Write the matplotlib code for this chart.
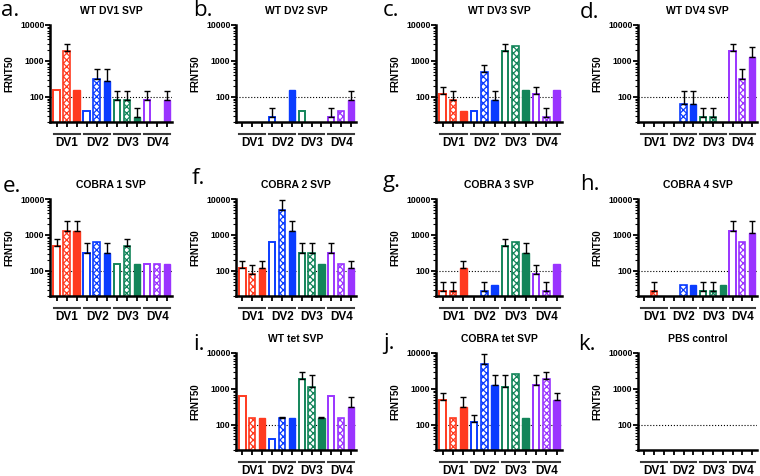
import numpy as np
import matplotlib
matplotlib.use('Agg')
import matplotlib.pyplot as plt
from matplotlib.ticker import LogLocator, NullFormatter

plt.rcParams['font.family'] = ['Liberation Sans', 'DejaVu Sans']
plt.rcParams['hatch.linewidth'] = 0.9

n = np.nan

# bar order inside each serotype group: open, checkered, filled
groups = ['DV1', 'DV2', 'DV3', 'DV4']
colors = ['#ff3a1f', '#0a3cff', '#13855a', '#9a34ff']

titles = ['WT DV1 SVP', 'WT DV2 SVP', 'WT DV3 SVP', 'WT DV4 SVP',
          'COBRA 1 SVP', 'COBRA 2 SVP', 'COBRA 3 SVP', 'COBRA 4 SVP',
          'WT tet SVP', 'COBRA tet SVP', 'PBS control']
letters = ['a.', 'b.', 'c.', 'd.', 'e.', 'f.', 'g.', 'h.', 'i.', 'j.', 'k.']

# geometric mean titres and upper end of error bar
a_vals = [160, 1900, 160, 40, 320, 280, 80, 80, 27, 80, n, 80]
a_errs = [n, 3000, n, n, 600, 600, 150, 150, 50, 150, n, 150]
b_vals = [n, n, n, 27, n, 160, 40, n, n, 27, 40, 80]
b_errs = [n, n, n, 50, n, n, n, n, n, 50, n, 150]
c_vals = [120, 80, 40, 40, 480, 80, 1900, 2560, 160, 120, 27, 160]
c_errs = [190, 150, n, n, 760, 150, 3000, n, n, 190, 50, n]
d_vals = [n, n, n, n, 65, 65, 27, 27, n, 1900, 320, 1300]
d_errs = [n, n, n, n, 150, 150, 50, 50, n, 3000, 600, 2400]
e_vals = [480, 1300, 1300, 320, 640, 320, 160, 480, 160, 160, 160, 160]
e_errs = [760, 2400, 2400, 600, n, 600, n, 760, n, n, n, n]
f_vals = [120, 80, 120, 640, 5100, 1300, 320, 320, 160, 320, 160, 120]
f_errs = [190, 150, 190, n, 9500, 2400, 600, 600, n, 600, n, 190]
g_vals = [27, 27, 120, n, 27, 40, 480, 640, 320, 80, 27, 160]
g_errs = [50, 50, 190, n, 50, n, 760, n, 600, 150, 50, n]
h_vals = [n, 27, n, n, 40, 40, 27, 27, 40, 1280, 640, 1100]
h_errs = [n, 50, n, n, n, n, 50, 50, n, 2400, n, 2400]
i_vals = [640, 160, 160, 40, 160, 160, 1900, 1100, 160, 640, 160, 320]
i_errs = [n, n, n, n, 170, n, 3000, 2400, 165, n, n, 600]
j_vals = [480, 160, 320, 120, 5100, 1300, 1100, 2560, 160, 1300, 1900, 480]
j_errs = [760, n, 600, 190, 9500, 2400, 2400, n, n, 2400, 3000, 760]
k_vals = [n] * 12
k_errs = [n] * 12

all_vals = [a_vals, b_vals, c_vals, d_vals, e_vals, f_vals, g_vals, h_vals, i_vals, j_vals, k_vals]
all_errs = [a_errs, b_errs, c_errs, d_errs, e_errs, f_errs, g_errs, h_errs, i_errs, j_errs, k_errs]

W, H = 760, 476
fig = plt.figure(figsize=(W / 100, H / 100), dpi=100)

col_x = [50, 236, 436, 638]
col_w = [122, 120, 126, 119]
row_top = [25, 199, 353]
ax_h = 97
cells = [(0, 0), (0, 1), (0, 2), (0, 3), (1, 0), (1, 1), (1, 2), (1, 3), (2, 1), (2, 2), (2, 3)]
letter_xy = [(1, 11), (193, 11), (383, 11), (580, 12), (3, 187), (192, 179), (383, 181), (580, 185),
             (193, 344), (383, 343), (578, 344)]

x = np.arange(12)
bw = 0.64
for p in range(11):
    r, c = cells[p]
    ax = fig.add_axes([col_x[c] / W, 1 - (row_top[r] + ax_h) / H, col_w[c] / W, ax_h / H])
    ax.set_yscale('log')
    vals = np.array(all_vals[p], dtype=float)
    errs = np.array(all_errs[p], dtype=float)
    for k in range(12):
        v = vals[k]
        if np.isnan(v):
            continue
        col = colors[k // 3]
        kind = k % 3
        if kind == 0:
            ax.bar(k, v, bw, facecolor='white', edgecolor=col, linewidth=1.4, zorder=2)
        elif kind == 1:
            ax.bar(k, v, bw, facecolor='white', edgecolor=col, hatch='xxxxx', linewidth=1.2, zorder=2)
        else:
            ax.bar(k, v, bw, facecolor=col, edgecolor=col, linewidth=1.0, zorder=2)
    m = ~np.isnan(errs) & ~np.isnan(vals)
    if m.any():
        ax.errorbar(x[m], vals[m], yerr=[np.zeros(m.sum()), errs[m] - vals[m]], fmt='none',
                    ecolor='black', elinewidth=1.0, capsize=2.5, capthick=1.0, zorder=3)
    ax.axhline(100, color='black', linestyle=':', linewidth=0.8, zorder=1)
    ax.set_ylim(20, 10000)
    ax.set_xlim(-0.65, 11.5)

    for s in ['top', 'right']:
        ax.spines[s].set_visible(False)
    for s in ['left', 'bottom']:
        ax.spines[s].set_linewidth(1.8)
    ax.set_xticks(x)
    ax.set_xticklabels([])
    ax.tick_params(axis='x', length=3.5, width=1.3, direction='out')
    ax.set_yticks([100, 1000, 10000])
    ax.set_yticklabels(['100', '1000', '10000'], fontsize=6.3, fontweight='bold')
    ax.yaxis.set_minor_locator(LogLocator(base=10, subs=np.arange(2, 10)))
    ax.yaxis.set_minor_formatter(NullFormatter())
    ax.tick_params(axis='y', which='major', length=3.5, width=1.3, pad=0.5)
    ax.tick_params(axis='y', which='minor', length=2, width=0.8)
    ax.set_ylabel('FRNT50', fontsize=7, fontweight='bold', labelpad=4)
    ax.set_title(titles[p], fontsize=7.5, fontweight='bold', pad=8)

    tr = ax.get_xaxis_transform()
    for g in range(4):
        ax.plot([3 * g - 0.3, 3 * g + 2.3], [-0.125, -0.125], transform=tr, color='#3a3a3a',
                linewidth=1.5, clip_on=False)
        ax.text(3 * g + 1.05, -0.215, groups[g], transform=tr, ha='center', va='center',
                fontsize=8.5, fontweight='bold')

    lx, ly = letter_xy[p]
    fig.text(lx / W, 1 - ly / H, letters[p], fontsize=16, ha='left', va='center', family='Open Sans')

plt.savefig('out.png', dpi=100)
